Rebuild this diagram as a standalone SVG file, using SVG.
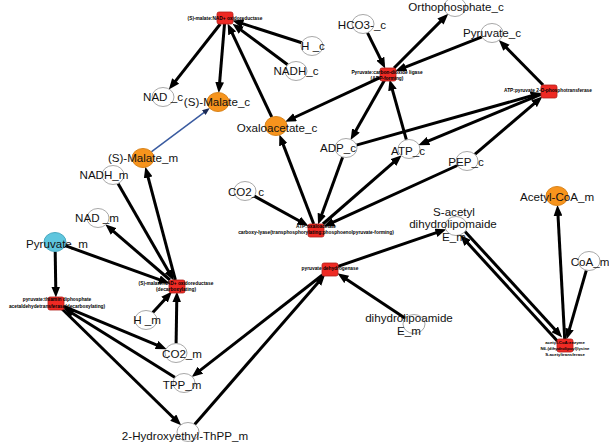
<svg xmlns="http://www.w3.org/2000/svg" width="609" height="446" viewBox="0 0 609 446">
<defs>
<marker id="ah" markerUnits="userSpaceOnUse" markerWidth="11" markerHeight="9" viewBox="0 0 10 8" refX="4" refY="4" orient="auto"><path d="M0,0 L10,4 L0,8 z" fill="#000"/></marker>
<marker id="ahb" markerUnits="userSpaceOnUse" markerWidth="8" markerHeight="6" viewBox="0 0 10 8" refX="4" refY="4" orient="auto"><path d="M0,0 L10,4 L0,8 z" fill="#1b2a55"/></marker>
</defs>
<style>
.e{stroke:#000;stroke-width:3;fill:none;marker-end:url(#ah)}
.eb{stroke:#3a5ba0;stroke-width:1.5;fill:none;marker-end:url(#ahb)}
.m{fill:#fff;stroke:#a8a8a8;stroke-width:1}
.o{fill:#f7941d;stroke:#d9841c;stroke-width:1}
.c{fill:#5fc6de;stroke:#4aa9c0;stroke-width:1}
.r{fill:#ee2a24;stroke:#b0201b;stroke-width:0.8}
.t{font-family:"Liberation Sans",Arial,sans-serif;font-size:11.6px;fill:#111;text-anchor:middle}
.rt{font-family:"Liberation Sans",Arial,sans-serif;font-size:4.8px;font-weight:bold;fill:#000;text-anchor:middle}
.rs{font-size:4.3px}
</style>
<rect width="609" height="446" fill="#fff"/>
<g id="connectors">
<line class="e" x1="220.3" y1="24" x2="172.9" y2="84.4"/>
<line class="e" x1="224.5" y1="24" x2="219.3" y2="86.5"/>
<line class="e" x1="271.8" y1="117.2" x2="230.4" y2="29.4"/>
<line class="e" x1="287.7" y1="64.8" x2="237.8" y2="27.6"/>
<line class="e" x1="301.7" y1="42.7" x2="238.7" y2="22.4"/>
<line class="eb" x1="151.3" y1="151.8" x2="206.2" y2="110.8"/>
<line class="e" x1="367.4" y1="32.7" x2="382.3" y2="62.6"/>
<line class="e" x1="394" y1="68" x2="443.6" y2="18.4"/>
<line class="e" x1="482" y1="36.9" x2="401.6" y2="68.6"/>
<line class="e" x1="384.6" y1="80" x2="353.8" y2="134.3"/>
<line class="e" x1="406.4" y1="139.8" x2="391.3" y2="85.8"/>
<line class="e" x1="380" y1="77.7" x2="291.1" y2="119"/>
<line class="e" x1="543.1" y1="85" x2="503.4" y2="44.6"/>
<line class="e" x1="541" y1="94.3" x2="424.4" y2="142.6"/>
<line class="e" x1="474.8" y1="154.3" x2="537.4" y2="100.9"/>
<line class="e" x1="356.4" y1="145.1" x2="535.2" y2="94.8"/>
<line class="e" x1="313.7" y1="224" x2="281.7" y2="140.6"/>
<line class="e" x1="342.7" y1="157.1" x2="320.3" y2="218.4"/>
<line class="e" x1="322.9" y1="224" x2="396.7" y2="159.7"/>
<line class="e" x1="457.3" y1="165.5" x2="329.5" y2="223.8"/>
<line class="e" x1="254.3" y1="196.1" x2="302.7" y2="222.7"/>
<line class="e" x1="338" y1="266.3" x2="440.1" y2="231.4"/>
<line class="e" x1="405.2" y1="318.2" x2="343" y2="277"/>
<line class="e" x1="322.4" y1="275" x2="196.9" y2="372.9"/>
<line class="e" x1="194.6" y1="424.4" x2="320.8" y2="279.5"/>
<line class="e" x1="175.4" y1="280" x2="147" y2="173.2"/>
<line class="e" x1="170" y1="280" x2="110.3" y2="228.6"/>
<line class="e" x1="118" y1="183.6" x2="170.5" y2="274.8"/>
<line class="e" x1="65.2" y1="245.7" x2="163.4" y2="281.1"/>
<line class="e" x1="152.8" y1="312.5" x2="167.5" y2="296.4"/>
<line class="e" x1="176.1" y1="343.5" x2="176.8" y2="298"/>
<line class="e" x1="55.2" y1="251.5" x2="55.8" y2="291"/>
<line class="e" x1="64" y1="306.3" x2="160.6" y2="346.6"/>
<line class="e" x1="175.1" y1="377.4" x2="69.1" y2="311.2"/>
<line class="e" x1="62.1" y1="309" x2="176.4" y2="420.7"/>
<line class="e" x1="564.7" y1="339" x2="557.8" y2="211.5"/>
<line class="e" x1="586.3" y1="270.3" x2="568.3" y2="333.2"/>
<line class="e" x1="465" y1="231.4" x2="557.7" y2="332.6"/>
<line class="e" x1="557.3" y1="341" x2="464.7" y2="239.8"/>
</g>
<g id="H_c"><ellipse class="m" cx="312" cy="46" rx="11" ry="9.5"/><text class="t" x="313" y="50">H _c</text></g>
<g id="NADH_c"><ellipse class="m" cx="296" cy="71" rx="11" ry="9.5"/><text class="t" x="296" y="75">NADH_c</text></g>
<g id="NAD_c"><ellipse class="m" cx="163" cy="97" rx="11" ry="9.5"/><text class="t" x="163" y="101">NAD _c</text></g>
<g id="Malate_c"><ellipse class="o" cx="218" cy="102" rx="11" ry="9.5"/><text class="t" x="217" y="106">(S)-Malate_c</text></g>
<g id="Oxaloacetate_c"><ellipse class="o" cx="276" cy="126" rx="11" ry="9.5"/><text class="t" x="277" y="132">Oxaloacetate_c</text></g>
<g id="HCO3_c"><ellipse class="m" cx="363" cy="24" rx="11" ry="9.5"/><text class="t" x="362" y="29">HCO3-_c</text></g>
<g id="Orthophosphate_c"><ellipse class="m" cx="455" cy="7" rx="11" ry="9.5"/><text class="t" x="456" y="11">Orthophosphate_c</text></g>
<g id="Pyruvate_c"><ellipse class="m" cx="492" cy="33" rx="11" ry="9.5"/><text class="t" x="492" y="37">Pyruvate_c</text></g>
<g id="ADP_c"><ellipse class="m" cx="346" cy="148" rx="11" ry="9.5"/><text class="t" x="338" y="152">ADP_c</text></g>
<g id="ATP_c"><ellipse class="m" cx="409" cy="149" rx="11" ry="9.5"/><text class="t" x="408" y="155">ATP_c</text></g>
<g id="PEP_c"><ellipse class="m" cx="467" cy="161" rx="11" ry="9.5"/><text class="t" x="466" y="166">PEP_c</text></g>
<g id="CO2_c"><ellipse class="m" cx="245" cy="191" rx="11" ry="9.5"/><text class="t" x="246" y="196">CO2_c</text></g>
<g id="Malate_m"><ellipse class="o" cx="143" cy="158" rx="11" ry="9.5"/><text class="t" x="143" y="162">(S)-Malate_m</text></g>
<g id="NADH_m"><ellipse class="m" cx="113" cy="175" rx="11" ry="9.5"/><text class="t" x="104" y="179">NADH_m</text></g>
<g id="NAD_m"><ellipse class="m" cx="98" cy="218" rx="11" ry="9.5"/><text class="t" x="97" y="222">NAD _m</text></g>
<g id="Pyruvate_m"><ellipse class="c" cx="55" cy="242" rx="11" ry="9.5"/><text class="t" x="57" y="248">Pyruvate_m</text></g>
<g id="H_m"><ellipse class="m" cx="146" cy="320" rx="11" ry="9.5"/><text class="t" x="147" y="324">H _m</text></g>
<g id="CO2_m"><ellipse class="m" cx="176" cy="353" rx="11" ry="9.5"/><text class="t" x="182" y="358">CO2_m</text></g>
<g id="TPP_m"><ellipse class="m" cx="184" cy="383" rx="11" ry="9.5"/><text class="t" x="182" y="389">TPP_m</text></g>
<g id="HETPP_m"><ellipse class="m" cx="188" cy="432" rx="11" ry="9.5"/><text class="t" x="185" y="440">2-Hydroxyethyl-ThPP_m</text></g>
<g id="Sacetyl_E_m"><ellipse class="m" cx="456" cy="226" rx="11" ry="9.5"/><text class="t" x="454" y="215.5">S-acetyl</text><text class="t" x="453" y="228">dihydrolipomaide</text><text class="t" x="454" y="240.5">E_m</text></g>
<g id="dihydrolipoamide_E_m"><ellipse class="m" cx="414" cy="324" rx="11" ry="9.5"/><text class="t" x="409" y="322">dihydrolipoamide</text><text class="t" x="409" y="334.5">E_m</text></g>
<g id="AcetylCoA_m"><ellipse class="o" cx="557" cy="196" rx="11" ry="9.5"/><text class="t" x="557" y="201">Acetyl-CoA_m</text></g>
<g id="CoA_m"><ellipse class="m" cx="589" cy="261" rx="11" ry="9.5"/><text class="t" x="590" y="266">CoA_m</text></g>
<g id="R_malate_dh_c"><rect class="r" x="217" y="12" width="16" height="12" rx="2"/><text class="rt" x="225" y="19.5">(S)-malate:NAD+ oxidoreductase</text></g>
<g id="R_pyr_carboxylase"><rect class="r" x="380" y="68" width="16" height="13" rx="2"/><text class="rt" x="387" y="73.5">Pyruvate:carbon-dioxide ligase</text><text class="rt" x="387" y="80">(ADP-forming)</text></g>
<g id="R_pyr_kinase"><rect class="r" x="541" y="85" width="16" height="13" rx="2"/><text class="rt" x="548" y="92">ATP:pyruvate 2-O-phosphotransferase</text></g>
<g id="R_pepck"><rect class="r" x="308" y="224" width="16" height="13" rx="2"/><text class="rt" x="316" y="227.5">ATP:oxaloacetate</text><text class="rt" x="316" y="234">carboxy-lyase(transphosphorylating;phosphoenolpyruvate-forming)</text></g>
<g id="R_pdh"><rect class="r" x="322" y="263" width="16" height="13" rx="2"/><text class="rt" x="330" y="270">pyruvate dehydrogenase</text></g>
<g id="R_malic_enzyme"><rect class="r" x="169" y="280" width="16" height="13" rx="2"/><text class="rt" x="176" y="284.5">(S)-malate:NAD+ oxidoreductase</text><text class="rt" x="176" y="291">(decarboxylating)</text></g>
<g id="R_pyr_decarboxylase"><rect class="r" x="48" y="297" width="16" height="13" rx="2"/><text class="rt" x="57" y="301">pyruvate:thiamin diphosphate</text><text class="rt" x="57" y="307.5">acetaldehydetransferase(decarboxylating)</text></g>
<g id="R_dlat"><rect class="r" x="557" y="339" width="16" height="13" rx="2"/><text class="rt rs" x="565" y="344">acetyl-CoA:enzyme</text><text class="rt rs" x="565" y="350">N6-(dihydrolipoyl)lysine</text><text class="rt rs" x="565" y="356">S-acetyltransferase</text></g>
</svg>
